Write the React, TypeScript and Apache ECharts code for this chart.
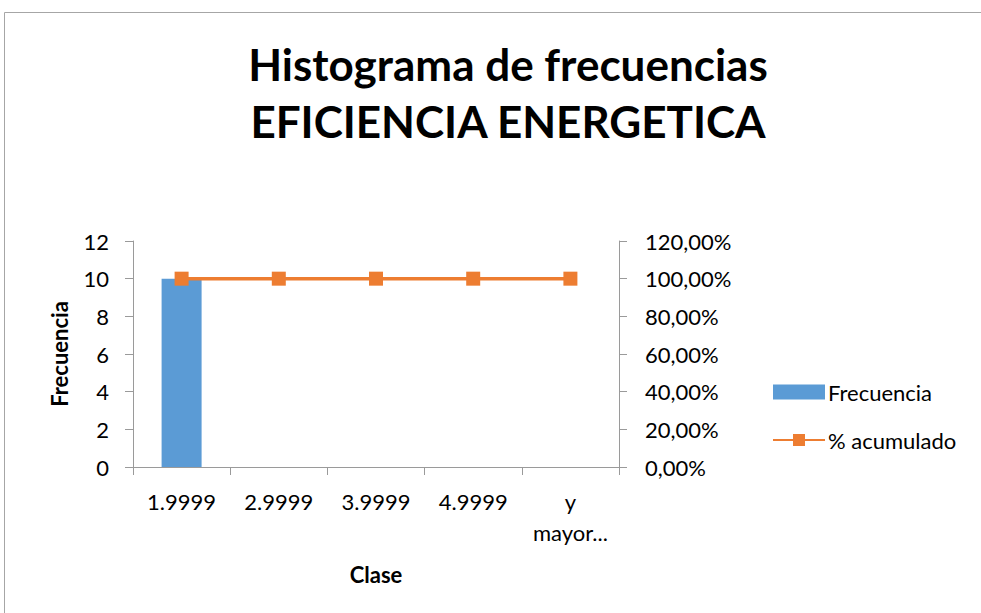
import React, { useEffect, useRef } from "react";
import * as echarts from "echarts";

const categories = ["1.9999", "2.9999", "3.9999", "4.9999", "y\nmayor..."];
const frecuencia = [10, 0, 0, 0, 0];
const acumulado = [1, 1, 1, 1, 1];

const FONT = "Lato";
const AXIS_COLOR = "#9a9a9a";

export default function App() {
  const ref = useRef<HTMLDivElement>(null);
  useEffect(() => {
    const chart = echarts.init(ref.current!, null, { renderer: "svg" });
    const pct = (v: number) => (v * 100).toFixed(2).replace(".", ",") + "%";
    chart.setOption({
      animation: false,
      backgroundColor: "#ffffff",
      textStyle: { fontFamily: FONT },
      title: {
        text: "Histograma de frecuencias\nEFICIENCIA ENERGETICA",
        left: 503,
        top: 30,
        textAlign: "center",
        textStyle: {
          fontFamily: FONT,
          fontSize: 44,
          fontWeight: "bold",
          color: "#000",
          lineHeight: 57,
        },
      },
      graphic: [
        {
          type: "rect",
          shape: { x: 4.5, y: 12.5, width: 1000, height: 1000 },
          style: { fill: "none", stroke: "#a6a6a6", lineWidth: 1 },
          silent: true,
        },
      ],
      legend: {
        orient: "vertical",
        left: 767,
        top: 376,
        itemWidth: 52,
        itemHeight: 15,
        itemGap: 26,
        textStyle: { fontFamily: FONT, fontSize: 22, color: "#000", padding: [0, 0, 0, -2] },
        data: [
          { name: "Frecuencia", icon: "rect" },
          { name: "% acumulado" },
        ],
      },
      grid: { left: 133, right: 362, top: 241, bottom: 146, containLabel: false },
      xAxis: {
        type: "category",
        data: categories,
        name: "Clase",
        nameLocation: "middle",
        nameGap: 96,
        nameTextStyle: { fontFamily: FONT, fontSize: 22, fontWeight: "bold", color: "#000" },
        axisLine: { lineStyle: { color: AXIS_COLOR, width: 1 } },
        axisTick: { show: true, length: 8, interval: 0, lineStyle: { color: AXIS_COLOR } },
        axisLabel: {
          interval: 0,
          margin: 19,
          fontFamily: FONT,
          fontSize: 22,
          color: "#000",
          lineHeight: 31,
        },
      },
      yAxis: [
        {
          type: "value",
          min: 0,
          max: 12,
          interval: 2,
          name: "Frecuencia",
          nameLocation: "middle",
          nameGap: 63,
          nameRotate: 90,
          nameTextStyle: { fontFamily: FONT, fontSize: 22, fontWeight: "bold", color: "#000" },
          axisLine: { show: true, lineStyle: { color: AXIS_COLOR, width: 1 } },
          axisTick: { show: true, length: 8, lineStyle: { color: AXIS_COLOR } },
          axisLabel: { margin: 24, fontFamily: FONT, fontSize: 22, color: "#000" },
          splitLine: { show: false },
        },
        {
          type: "value",
          min: 0,
          max: 1.2,
          interval: 0.2,
          position: "right",
          axisLine: { show: true, lineStyle: { color: AXIS_COLOR, width: 1 } },
          axisTick: { show: true, length: 8, lineStyle: { color: AXIS_COLOR } },
          axisLabel: {
            margin: 26,
            fontFamily: FONT,
            fontSize: 22,
            color: "#000",
            formatter: pct,
          },
          splitLine: { show: false },
        },
      ],
      series: [
        {
          name: "Frecuencia",
          type: "bar",
          data: frecuencia,
          barWidth: 40,
          itemStyle: { color: "#5B9BD5" },
        },
        {
          name: "% acumulado",
          type: "line",
          yAxisIndex: 1,
          data: acumulado,
          symbol: "rect",
          symbolSize: 14,
          lineStyle: { color: "#ED7D31", width: 3.5 },
          itemStyle: { color: "#ED7D31" },
        },
      ],
    });
    return () => chart.dispose();
  }, []);
  return (
    <div
      ref={ref}
      style={{ position: "fixed", left: 0, top: 0, width: 981, height: 613 }}
    />
  );
}
